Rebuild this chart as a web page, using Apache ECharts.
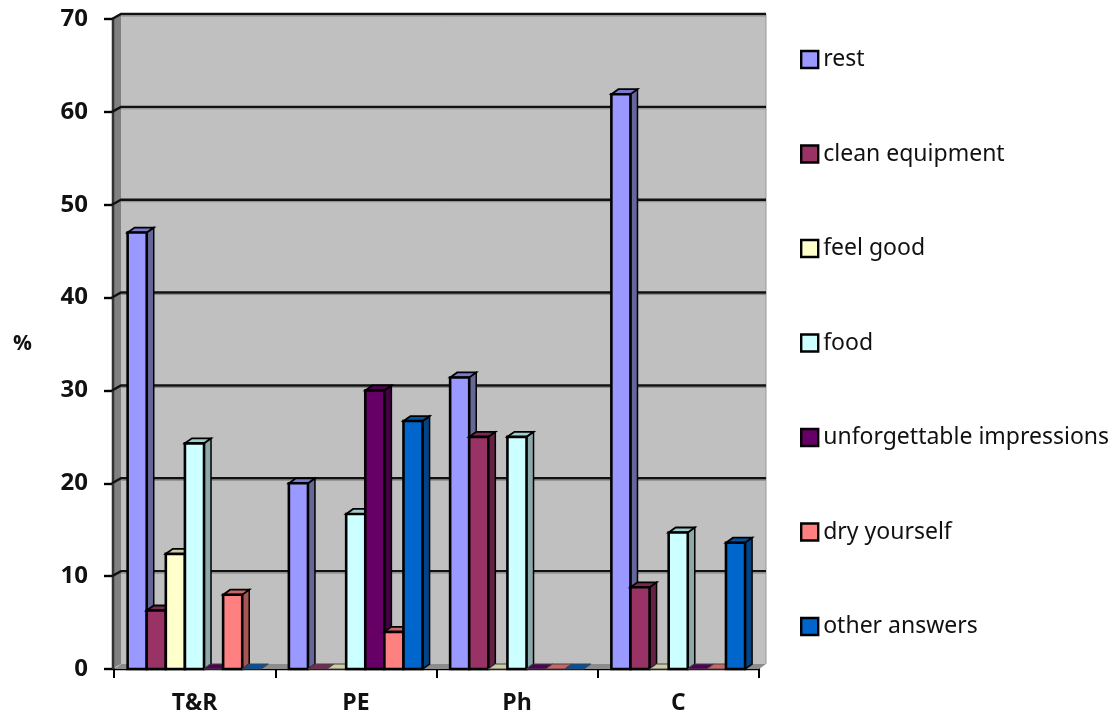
<!DOCTYPE html>
<html><head><meta charset="utf-8">
<style>html,body{margin:0;padding:0;background:#fff}#c{width:1115px;height:715px}</style>
<script src="https://cdn.jsdelivr.net/npm/echarts@6/dist/echarts.min.js"></script>
</head><body><div id="c"></div>
<script>
var categories = ['T&R','PE','Ph','C'];
var yTicks = [0,10,20,30,40,50,60,70];
var seriesNames = ['rest','clean equipment','feel good','food','unforgettable impressions','dry yourself','other answers'];
var rest = [47,20,31.4,61.9];
var cleanEquipment = [6.3,0,25,8.8];
var feelGood = [12.4,0,0,0];
var food = [24.3,16.7,25,14.7];
var unforgettable = [0,30,0,0];
var dryYourself = [8,4,0,0];
var otherAnswers = [0,26.7,0,13.6];
var seriesValues = [rest,cleanEquipment,feelGood,food,unforgettable,dryYourself,otherAnswers];
var colors = ['#9999FF','#993366','#FFFFCC','#CCFFFF','#660066','#FF8080','#0066CC'];
var sideColors = ['#666699','#662244','#999980','#8CA8A8','#440044','#A85555','#004488'];
var topColors = ['#7A7ACC','#7A2952','#CCCCA3','#A3CCCC','#520052','#CC6666','#0052A3'];
var DX = 7, DY = 5, BAR_W = 19.1, GROUP_OFFSET = 67;

function poly(points, fill, stroke, lw){
  return {type:'polygon',shape:{points:points},style:{fill:fill,stroke:stroke||null,lineWidth:lw||0}};
}
function wallItem(params, api){
  var c = params.coordSys, x0=c.x, x1=c.x+c.width, yT=c.y, yB=c.y+c.height;
  var children = [];
  if (params.dataIndex === 0){
    children.push(poly([[x0+DX,yT-DY],[x1+DX,yT-DY],[x1+DX,yB-DY],[x0+DX,yB-DY]],'#C0C0C0'));
    children.push(poly([[x0-2,yT],[x0+DX,yT-DY],[x0+DX,yB-DY],[x0-2,yB]],'#808080'));
    children.push({type:'line',shape:{x1:x0-1,y1:yT,x2:x0-1,y2:yB},style:{stroke:'#333',lineWidth:2.5}});
    children.push(poly([[x0,yB],[x1,yB],[x1+DX,yB-DY],[x0+DX,yB-DY]],'#8C8C8C'));
    children.push({type:'line',shape:{x1:x1+DX,y1:yT-DY,x2:x1+DX,y2:yB-DY},style:{stroke:'#999',lineWidth:1}});
  }
  var y = api.coord([0, api.value(0)])[1];
  if (api.value(0) > 0){
    children.push({type:'polyline',shape:{points:[[x0-2,y],[x0+DX,y-DY],[x1+DX,y-DY]]},style:{fill:null,stroke:'#111',lineWidth:2.4}});
    children.push({type:'line',shape:{x1:x0+DX,y1:y-DY+2,x2:x1+DX,y2:y-DY+2},style:{stroke:'#8a8a8a',lineWidth:1}});
  }
  return {type:'group',children:children};
}
function barItem(params, api){
  var s = params.seriesIndex - 1;
  var cat = api.value(0), val = api.value(1);
  var base = api.coord([cat,0]), top = api.coord([cat,val]);
  var left = base[0] - GROUP_OFFSET + s*BAR_W, right = left + BAR_W;
  var yB = base[1], yT = top[1];
  var st = '#000', ch = [];
  if (val > 0){
    ch.push(poly([[right,yT],[right+DX,yT-DY],[right+DX,yB-DY],[right,yB]],sideColors[s],st,1.5));
  }
  ch.push(poly([[left,yT],[left+DX,yT-DY],[right+DX,yT-DY],[right,yT]],topColors[s],val>0?st:'#444',val>0?1.8:1));
  if (val > 0){
    ch.push(poly([[left,yT],[right,yT],[right,yB],[left,yB]],colors[s],st,2.6));
  }
  return {type:'group',children:ch};
}
var series = [{
  type:'custom',name:'walls',silent:true,clip:false,
  coordinateSystem:'cartesian2d',
  renderItem:wallItem,
  data:yTicks.map(function(t){return [t];}),
  encode:{y:0}
}];
seriesNames.forEach(function(n,i){
  series.push({
    type:'custom',name:n,clip:false,coordinateSystem:'cartesian2d',
    renderItem:barItem,
    itemStyle:{color:colors[i]},
    data:seriesValues[i].map(function(v,k){return [k,v];}),
    encode:{x:0,y:1}
  });
});
var chart = echarts.init(document.getElementById('c'),null,{renderer:'canvas'});
chart.setOption({
  animation:false,
  backgroundColor:'#fff',
  grid:{left:114,top:19,width:645,height:650,containLabel:false},
  legend:{
    orient:'vertical',left:795,top:43,itemWidth:17,itemHeight:17,itemGap:71.5,
    icon:'rect',selectedMode:false,
    data:seriesNames,
    itemStyle:{borderColor:'#000',borderWidth:2.4},
    textStyle:{fontFamily:'Noto Sans',fontSize:23,color:'#111'}
  },
  xAxis:{
    type:'category',data:categories,
    axisLine:{show:true,lineStyle:{color:'#000',width:2.4}},
    axisTick:{show:true,alignWithLabel:false,length:9,lineStyle:{color:'#000',width:2}},
    axisLabel:{fontFamily:'Open Sans',fontWeight:'bold',fontSize:23,color:'#111',margin:23},
    splitLine:{show:false}
  },
  yAxis:{
    type:'value',min:0,max:70,interval:10,
    name:'%',nameLocation:'middle',nameRotate:0,nameGap:82,
    nameTextStyle:{fontFamily:'Open Sans',fontWeight:'bold',fontSize:21,color:'#111',padding:[0,0,5,0]},
    axisLine:{show:false},
    axisTick:{show:true,length:10,lineStyle:{color:'#000',width:2.4}},
    axisLabel:{fontFamily:'Open Sans',fontWeight:'bold',fontSize:24,color:'#111',margin:26,padding:[5,0,0,0]},
    splitLine:{show:false}
  },
  series:series
});
</script></body></html>
